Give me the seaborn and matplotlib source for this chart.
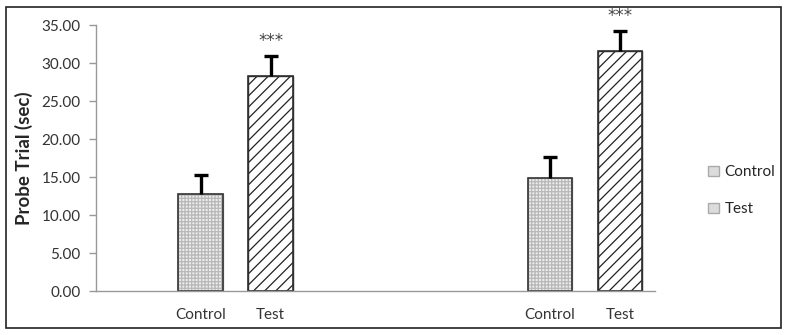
import matplotlib
matplotlib.use("Agg")
import matplotlib.pyplot as plt
import seaborn as sns
import pandas as pd
import numpy as np
from matplotlib.patches import Patch

# ---- data ----
slots = ["s0", "s1", "s2", "s3", "s4", "s5", "s6", "s7"]
slot_labels = ["", "Control", "Test", "", "", "", "Control", "Test"]
bar_slots = ["s1", "s2", "s6", "s7"]
bar_groups = ["Control", "Test", "Control", "Test"]
bar_values = [12.8, 28.3, 14.9, 31.6]
bar_errors = [2.5, 2.6, 2.8, 2.6]
sig_marks = ["", "***", "", "***"]
y_ticks = [0, 5, 10, 15, 20, 25, 30, 35]

sns.set_theme(style="white")
plt.rcParams["font.family"] = ["Lato", "DejaVu Sans"]
plt.rcParams["hatch.linewidth"] = 0.9

df = pd.DataFrame({"slot": bar_slots, "group": bar_groups, "value": bar_values})

fig = plt.figure(figsize=(7.87, 3.35), dpi=100)
ax = fig.add_axes([0.122, 0.131, 0.71, 0.794])

sns.barplot(data=df, x="slot", y="value", order=slots, hue="group",
            hue_order=["Control", "Test"], dodge=False, width=0.64,
            palette={"Control": "#ececec", "Test": "white"},
            edgecolor="#222222", linewidth=1.0, errorbar=None, legend=False, ax=ax)

# hatches
for patch in ax.patches:
    h = patch.get_height()
    if np.isnan(h) or h == 0:
        continue
    x = patch.get_x() + patch.get_width() / 2
    idx = int(round(x))
    if slot_labels[idx] == "Control":
        patch.set_hatch("+++++")
        patch.set_edgecolor("#b8b8b8")
    else:
        patch.set_hatch("///")
        patch.set_edgecolor("#222222")

# outlines on top
sns.barplot(data=df, x="slot", y="value", order=slots, width=0.64,
            fill=False, edgecolor="#333333", linewidth=1.2, errorbar=None, ax=ax)

# error bars (upper only)
xpos = [slots.index(s) for s in bar_slots]
eb = ax.errorbar(xpos, bar_values, yerr=[np.zeros(len(bar_errors)), bar_errors],
                 fmt="none", ecolor="black", elinewidth=2.4, capsize=5, capthick=2.4)
caplines = eb.lines[1]
if len(caplines) >= 1:
    caplines[0].set_visible(False)

for xp, v, e, m in zip(xpos, bar_values, bar_errors, sig_marks):
    if m:
        ax.text(xp, v + e + 2.0, m, ha="center", va="center", fontsize=12,
                color="#444444", family="DejaVu Sans", clip_on=False)

ax.set_xlim(-0.5, len(slots) - 0.5)
ax.set_ylim(0, 35)
ax.set_yticks(y_ticks)
ax.set_yticklabels([f"{t:.2f}" for t in y_ticks], fontsize=11, color="#333333")
ax.set_xticks(range(len(slots)))
ax.set_xticklabels(slot_labels, fontsize=11, color="#333333")
ax.set_xticks(np.arange(-0.5, len(slots)), minor=True)
ax.tick_params(axis="x", which="major", length=0, pad=12)
ax.tick_params(axis="x", which="minor", length=5, color="#999999", width=1, direction="out")
ax.tick_params(axis="y", length=5, color="#999999", width=1, direction="out", left=True, pad=6)
ax.set_xlabel("")
ax.set_ylabel("Probe Trial (sec)", fontsize=13.5, fontweight="bold", labelpad=6)

for s in ["top", "right"]:
    ax.spines[s].set_visible(False)
for s in ["left", "bottom"]:
    ax.spines[s].set_color("#999999")
    ax.spines[s].set_linewidth(1)

handles = [Patch(facecolor="#dcdcdc", edgecolor="#aaaaaa", label="Control"),
           Patch(facecolor="#dcdcdc", edgecolor="#aaaaaa", label="Test")]
fig.legend(handles=handles, loc="center left", bbox_to_anchor=(0.882, 0.43),
           frameon=False, fontsize=11, handlelength=0.7, handleheight=0.7,
           labelspacing=1.5, handletextpad=0.4)

# outer frame
fig.patches.append(plt.Rectangle((0.008, 0.02), 0.985, 0.96, transform=fig.transFigure,
                                 fill=False, edgecolor="#222222", linewidth=1.2))

fig.savefig("out.png", dpi=100)
